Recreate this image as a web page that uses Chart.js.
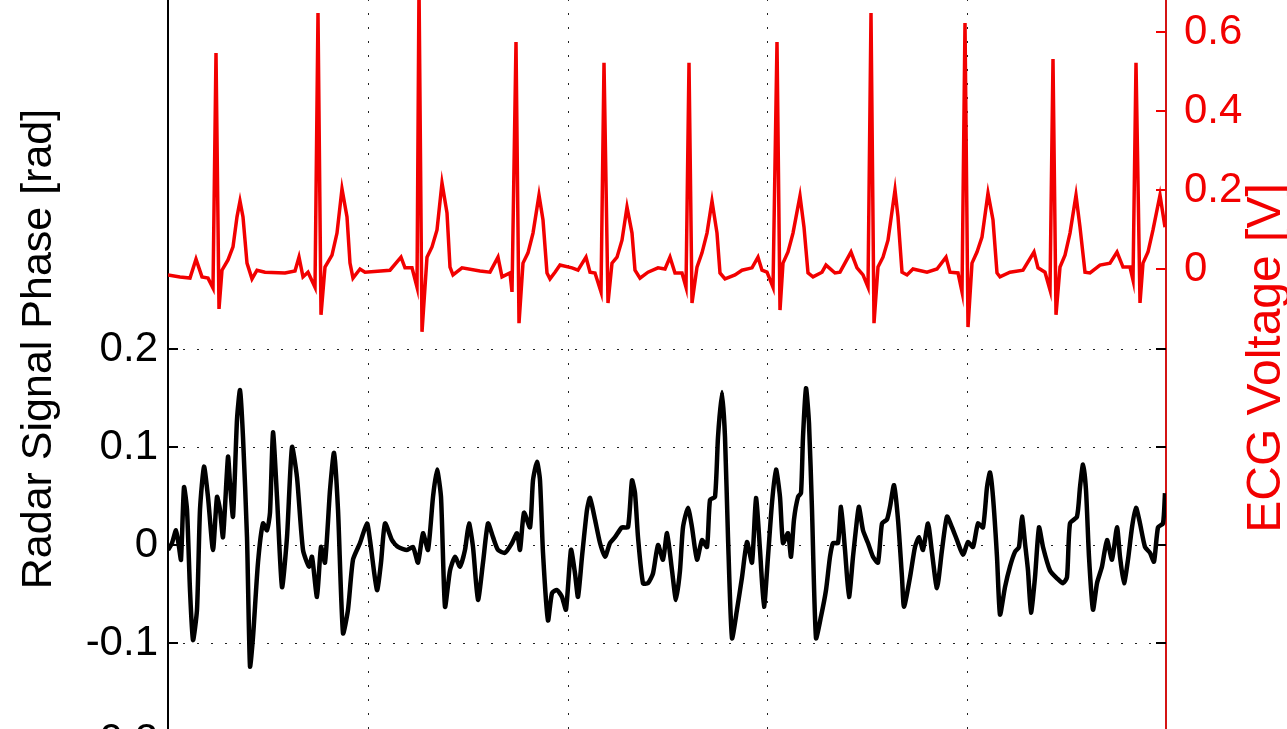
<!DOCTYPE html>
<html>
<head>
<meta charset="utf-8">
<title>Radar phase vs ECG</title>
<script src="https://cdn.jsdelivr.net/npm/chart.js@4.4.1/dist/chart.umd.min.js"></script>
<style>
  html, body { margin: 0; padding: 0; background: #fff; overflow: hidden; width: 1287px; height: 729px; }
  #wrap { position: absolute; left: 0; top: -93px; width: 1287px; height: 884px; }
</style>
</head>
<body>
<div id="wrap"><canvas id="myChart" width="1287" height="884"></canvas></div>
<script>
// time axis in seconds
const ecgT = [0,0.06,0.11,0.14,0.17,0.2,0.225,0.24,0.255,0.27,
  0.3,0.325,0.345,0.36,0.375,0.395,0.42,0.445,0.485,0.585,
  0.635,0.655,0.675,0.7,0.735,0.75,0.765,0.785,0.82,0.845,
  0.87,0.895,0.91,0.925,0.96,0.985,1.11,1.165,1.185,1.22,
  1.245,1.255,1.27,1.295,1.32,1.345,1.37,1.395,1.41,1.425,
  1.47,1.56,1.61,1.65,1.67,1.71,1.72,1.74,1.755,1.775,
  1.8,1.825,1.855,1.875,1.895,1.91,1.935,1.96,2.02,2.05,
  2.09,2.11,2.135,2.165,2.18,2.2,2.22,2.245,2.27,2.295,
  2.32,2.335,2.36,2.4,2.45,2.485,2.51,2.535,2.57,2.59,
  2.605,2.62,2.645,2.67,2.695,2.72,2.745,2.76,2.785,2.835,
  2.87,2.92,2.95,2.97,2.995,3.025,3.045,3.06,3.075,3.1,
  3.125,3.16,3.18,3.2,3.225,3.27,3.29,3.335,3.36,3.415,
  3.445,3.475,3.5,3.515,3.53,3.55,3.575,3.6,3.635,3.65,
  3.67,3.695,3.725,3.795,3.845,3.89,3.91,3.95,3.97,3.985,
  4,4.02,4.045,4.07,4.1,4.125,4.145,4.16,4.21,4.275,
  4.33,4.35,4.385,4.41,4.425,4.44,4.46,4.485,4.51,4.54,
  4.56,4.585,4.61,4.66,4.71,4.745,4.775,4.81,4.825,4.84,
  4.86,4.875,4.9,4.925,4.96,4.985];
const ecgV = [-0.015,-0.02,-0.023,0.025,-0.02,-0.023,-0.048,0.547,-0.101,-0.003,
  0.023,0.056,0.132,0.172,0.132,0.015,-0.025,-0.003,-0.008,-0.01,
  -0.005,0.03,-0.02,-0.008,-0.046,0.648,-0.116,0.005,0.035,0.091,
  0.203,0.132,0.015,-0.023,0,-0.008,-0.003,0.03,0.003,0.003,
  -0.046,0.719,-0.159,0.03,0.056,0.099,0.218,0.142,0.005,-0.015,
  0.003,-0.005,-0.008,0.03,-0.02,-0.01,-0.058,0.575,-0.137,0.015,
  0.041,0.091,0.187,0.124,-0.01,-0.025,-0.008,0.01,0.003,-0.003,
  0.03,-0.008,-0.01,-0.058,0.522,-0.086,0.015,0.03,0.073,0.157,
  0.091,-0.003,-0.023,-0.008,0.003,0,0.03,-0.01,-0.01,-0.046,
  0.522,-0.086,0.005,0.041,0.091,0.172,0.091,-0.01,-0.025,-0.015,
  -0.003,0.003,0.03,-0.003,-0.008,-0.046,0.575,-0.104,0.015,0.043,
  0.091,0.185,0.106,-0.01,-0.02,-0.008,0.01,-0.01,-0.008,0.043,
  0.003,-0.015,-0.046,0.648,-0.137,0.005,0.03,0.073,0.2,0.132,
  -0.008,-0.015,0,-0.008,0,0.03,-0.008,-0.01,-0.058,0.623,
  -0.147,0.015,0.043,0.081,0.192,0.124,-0.01,-0.02,-0.008,-0.003,
  0.043,0.003,-0.008,-0.053,0.532,-0.116,0.005,0.035,0.091,0.187,
  0.106,-0.008,-0.01,0.01,0.015,0.043,0.005,0.005,-0.028,0.522,
  -0.086,0.015,0.043,0.099,0.187,0.106];

const radarT = [0,0.02,0.04,0.055,0.065,0.08,0.095,0.11,0.125,0.145,
  0.16,0.18,0.2,0.225,0.245,0.26,0.275,0.3,0.31,0.325,
  0.345,0.36,0.375,0.395,0.41,0.425,0.45,0.475,0.495,0.51,
  0.525,0.545,0.57,0.595,0.62,0.645,0.675,0.705,0.72,0.745,
  0.765,0.785,0.81,0.83,0.85,0.875,0.9,0.925,0.96,0.995,
  1.01,1.045,1.065,1.085,1.12,1.15,1.195,1.225,1.25,1.275,
  1.3,1.325,1.345,1.365,1.385,1.41,1.435,1.46,1.485,1.505,
  1.525,1.55,1.575,1.6,1.625,1.65,
  1.685,1.72,1.745,1.76,1.78,1.81,1.825,1.845,1.86,1.875,
  1.9,1.92,1.945,1.97,1.99,2.015,2.035,2.05,2.07,2.095,
  2.11,2.135,2.16,2.185,2.21,2.235,2.27,2.3,2.32,2.335,
  2.35,2.375,2.4,2.425,2.45,2.475,2.495,2.52,2.54,2.56,
  2.575,2.6,2.62,2.645,2.67,2.695,2.71,2.735,2.75,2.77,
  2.785,2.8,2.82,2.845,2.87,2.895,2.92,2.94,2.96,2.98,
  3,3.02,3.04,3.06,3.075,3.1,3.115,3.13,3.15,3.165,
  3.175,3.19,3.205,3.22,3.24,3.265,3.29,3.31,
  3.325,3.35,3.365,3.385,3.405,3.425,3.445,3.455,3.475,3.5,
  3.525,3.55,3.57,3.595,3.61,3.63,3.65,3.67,3.68,3.71,
  3.735,3.755,3.775,3.8,3.82,3.845,3.87,3.895,3.92,3.945,
  3.975,4,4.025,4.05,4.075,4.095,4.11,4.125,4.145,4.16,
  4.185,4.21,4.235,4.255,4.27,4.285,4.3,4.315,4.335,4.355,
  4.375,4.41,4.445,4.475,4.495,4.51,4.545,4.56,4.575,4.59,
  4.605,4.625,4.645,4.67,4.695,4.72,4.745,4.76,4.78,4.8,
  4.82,4.84,4.86,4.885,4.91,4.93,4.95,4.975,4.985];
const radarP = [-0.005,0.002,0.015,-0.002,-0.015,0.059,0.036,-0.046,-0.097,-0.066,
  0.036,0.08,0.049,-0.005,0.049,0.036,0.008,0.09,0.063,0.029,
  0.128,0.158,0.11,0.008,-0.124,-0.094,-0.018,0.022,0.015,0.033,
  0.115,0.049,-0.043,0.008,0.1,0.069,-0.005,-0.022,-0.012,-0.053,
  -0.002,-0.018,0.056,0.094,0.036,-0.09,-0.066,-0.015,0.002,0.022,
  0.005,-0.046,-0.018,0.022,0.005,-0.002,-0.005,-0.002,-0.018,0.012,
  -0.005,0.049,0.077,0.049,-0.063,-0.026,-0.012,-0.022,-0.005,0.022,
  -0.002,-0.056,-0.018,0.022,0.008,-0.005,
  -0.008,0.002,0.012,-0.005,0.033,0.018,0.066,0.085,0.066,-0.008,
  -0.077,-0.049,-0.046,-0.053,-0.066,-0.005,-0.029,-0.053,-0.012,0.036,
  0.048,0.026,0.002,-0.012,0.002,0.008,0.018,0.018,0.066,0.053,
  0.008,-0.039,-0.039,-0.029,0,-0.015,0.012,-0.026,-0.056,-0.026,
  0.018,0.038,0.018,-0.015,0.005,-0.002,0.046,0.049,0.11,0.156,
  0.11,0.008,-0.095,-0.066,-0.033,0.003,-0.018,0.048,-0.005,-0.063,
  -0.012,0.043,0.077,0.049,0.002,0.012,-0.012,0.026,0.049,0.053,
  0.11,0.16,0.124,0.036,-0.095,-0.073,-0.046,-0.012,
  0.002,0.002,0.039,-0.005,-0.053,-0.012,0.026,0.039,0.015,0.002,
  -0.012,-0.018,0.022,0.026,0.039,0.061,0.026,-0.033,-0.063,-0.033,
  -0.002,0.008,-0.005,0.022,-0.008,-0.044,-0.005,0.029,0.018,0.005,
  -0.01,0.003,-0.002,0.022,0.018,0.059,0.074,0.049,-0.012,-0.071,
  -0.043,-0.022,-0.007,-0.002,0.029,0.002,-0.026,-0.069,-0.033,0.018,
  -0.002,-0.026,-0.034,-0.039,-0.033,0.022,0.029,0.059,0.082,0.056,
  -0.012,-0.066,-0.039,-0.022,0.005,-0.015,0.018,-0.012,-0.039,-0.015,
  0.018,0.038,0.022,-0.002,-0.008,-0.017,0.018,0.022,0.053];

// tick values and labels
const phaseTicks = [-0.2, -0.1, 0, 0.1, 0.2];
const phaseTickLabels = ['-0.2', '-0.1', '0', '0.1', '0.2'];
const ecgTicks = [0, 0.2, 0.4, 0.6];
const ecgTickLabels = ['0', '0.2', '0.4', '0.6'];
const timeGrid = [1, 2, 3, 4];

const FONT = "'Liberation Sans', Arial, Helvetica, sans-serif";
const RED = '#f20000';

// MATLAB style inward tick marks + right axis label (reads bottom to top)
const matlabAxes = {
  id: 'matlabAxes',
  afterDraw(chart) {
    const {ctx, chartArea: a, scales} = chart;
    ctx.save();
    ctx.lineWidth = 2;
    ctx.strokeStyle = '#000';
    scales.y.ticks.forEach(t => {
      const py = Math.round(scales.y.getPixelForValue(t.value));
      ctx.beginPath();
      ctx.moveTo(a.left, py); ctx.lineTo(a.left + 10, py);
      ctx.moveTo(a.right - 10, py); ctx.lineTo(a.right, py);
      ctx.stroke();
    });
    ctx.strokeStyle = RED;
    scales.y2.ticks.forEach(t => {
      const py = Math.round(scales.y2.getPixelForValue(t.value));
      ctx.beginPath();
      ctx.moveTo(a.right - 10, py); ctx.lineTo(a.right, py);
      ctx.stroke();
    });
    ctx.fillStyle = RED;
    ctx.font = '48px ' + FONT;
    ctx.textAlign = 'center';
    ctx.textBaseline = 'middle';
    ctx.translate(a.right + 101, (a.top + a.bottom) / 2 + 9);
    ctx.rotate(-Math.PI / 2);
    ctx.fillText('ECG Voltage [V]', 0, 0);
    ctx.restore();
  }
};

const dataRadar = {
  datasets: [
    {
      label: 'ECG',
      data: ecgT.map((t, i) => ({x: t, y: ecgV[i]})),
      yAxisID: 'y2',
      borderColor: RED,
      borderWidth: 3.5,
      pointRadius: 0,
      tension: 0
    },
    {
      label: 'Radar',
      data: radarT.map((t, i) => ({x: t, y: radarP[i]})),
      yAxisID: 'y',
      borderColor: '#000',
      borderWidth: 4.5,
      pointRadius: 0,
      tension: 0.2
    }
  ]
};

const configRadar = {
  type: 'line',
  data: dataRadar,
  plugins: [matlabAxes],
  options: {
    responsive: false,
    animation: false,
    layout: { padding: { top: 50, bottom: 50, left: 0, right: 0 } },
    plugins: {
      legend: { display: false },
      tooltip: { enabled: false }
    },
    scales: {
      x: {
        type: 'linear',
        min: 0,
        max: 4.99,
        afterBuildTicks: s => { s.ticks = timeGrid.map(v => ({value: v})); },
        afterFit: s => { s.height = 0; },
        ticks: { display: false },
        grid: { color: '#222', lineWidth: 1, drawTicks: false },
        border: { display: false, dash: [2, 12] }
      },
      y: {
        position: 'left',
        min: -0.2,
        max: 0.6,
        afterBuildTicks: s => { s.ticks = phaseTicks.map(v => ({value: v})); },
        afterFit: s => { s.width = 168; },
        ticks: {
          padding: 10,
          color: '#000',
          font: { family: FONT, size: 42 },
          callback: (v, i) => phaseTickLabels[i]
        },
        grid: { color: '#222', lineWidth: 1, drawTicks: false },
        border: { display: true, color: '#000', width: 2, dash: [2, 12] },
        title: {
          display: true,
          text: 'Radar Signal Phase [rad]',
          color: '#000',
          font: { family: FONT, size: 43 },
          padding: { top: 13, bottom: 0 }
        }
      },
      y2: {
        position: 'right',
        min: -1.195,
        max: 0.79,
        afterBuildTicks: s => { s.ticks = ecgTicks.map(v => ({value: v})); },
        afterFit: s => { s.width = 121; },
        ticks: {
          padding: 10,
          color: RED,
          font: { family: FONT, size: 42 },
          callback: (v, i) => ecgTickLabels[i]
        },
        grid: { display: false },
        border: { display: true, color: '#d41414', width: 2 }
      }
    }
  }
};

const myChartRadar = new Chart(document.getElementById('myChart'), configRadar);
</script>
</body>
</html>
